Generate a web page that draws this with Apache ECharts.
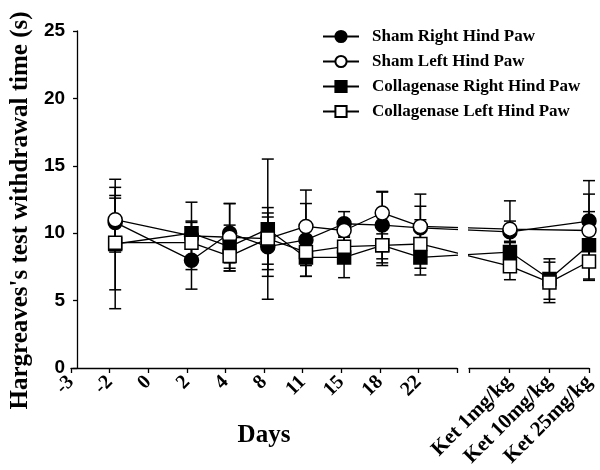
<!DOCTYPE html>
<html>
<head>
<meta charset="utf-8">
<script src="https://cdn.jsdelivr.net/npm/echarts@6/dist/echarts.min.js"></script>
<style>html,body{margin:0;padding:0;background:#fff}#c{width:600px;height:470px}</style>
</head>
<body>
<div id="c"></div>
<script>
// ---- data ----
const dayCats = ['-3', '-2', '0', '2', '4', '8', '11', '15', '18', '22'];
const ketCats = ['Ket 1mg/kg', 'Ket 10mg/kg', 'Ket 25mg/kg'];
const yTicks = [0, 5, 10, 15, 20, 25];
const seriesNames = ['Sham Right Hind Paw', 'Sham Left Hind Paw', 'Collagenase Right Hind Paw', 'Collagenase Left Hind Paw'];

const shamRightDays = [null, 10.8, null, 8.0, 10.0, 9.0, 9.5, 10.7, 10.6, 10.4];
const shamRightDaysErr = [null, 1.8, null, 2.15, 2.2, 2.2, 2.7, 0.9, 2.5, 2.5];
const shamRightKet = [10.1, null, 10.9];
const shamRightKetErr = [0.8, null, 3.0];

const shamLeftDays = [null, 11.0, null, 9.8, 9.7, 9.6, 10.5, 10.2, 11.5, 10.5];
const shamLeftDaysErr = [null, 2.4, null, 2.5, 2.5, 2.3, 2.7, 0.8, 1.55, 1.5];
const shamLeftKet = [10.3, null, 10.2];
const shamLeftKetErr = [2.1, null, 2.7];

const collRightDays = [null, 9.2, null, 10.0, 9.0, 10.3, 8.2, 8.2, 9.1, 8.2];
const collRightDaysErr = [null, 4.8, null, 0.9, 1.6, 5.2, 1.4, 1.5, 1.3, 1.3];
const collRightKet = [8.6, 6.6, 9.1];
const collRightKetErr = [0.8, 1.5, 2.5];

const collLeftDays = [null, 9.3, null, 9.3, 8.3, 9.6, 8.6, 9.0, 9.1, 9.2];
const collLeftDaysErr = [null, 3.5, null, 1.5, 1.1, 1.9, 1.0, 1.2, 1.5, 1.8];
const collLeftKet = [7.55, 6.35, 7.9];
const collLeftKetErr = [1.0, 1.5, 1.4];

// ---- layout ----
const L = 71, TOP = 31, BOTTOM = 102;
const LEFT_W = 386;          // left axis segment width
const RIGHT_X = 469, RIGHT_W = 120; // right axis segment
const PLOT_R = RIGHT_X + RIGHT_W;
const SERIF = 'Liberation Serif';
const SANS = 'Liberation Sans';

const leftAxisCats = dayCats.concat(['']);
const rightAxisCats = [''].concat(ketCats);
const leftStep = LEFT_W / (leftAxisCats.length - 1);
const rightStep = RIGHT_W / (rightAxisCats.length - 1);
function posDay(i) { return i * leftStep; }
function posKet(j) { return (RIGHT_X - L) + (j + 1) * rightStep; }

function buildLine(days, ket) {
  const out = [];
  days.forEach((v, i) => { if (v !== null) out.push([posDay(i), v]); });
  ket.forEach((v, j) => { out.push([posKet(j), v]); });
  return out;
}
function buildErr(days, dErr, ket, kErr) {
  const out = [];
  days.forEach((v, i) => { if (v !== null) out.push([posDay(i), v, dErr[i]]); });
  ket.forEach((v, j) => { if (v !== null) out.push([posKet(j), v, kErr[j]]); });
  return out;
}

const groups = [
  { name: seriesNames[0], d: shamRightDays, de: shamRightDaysErr, k: shamRightKet, ke: shamRightKetErr, symbol: 'circle', fill: '#000' },
  { name: seriesNames[1], d: shamLeftDays, de: shamLeftDaysErr, k: shamLeftKet, ke: shamLeftKetErr, symbol: 'circle', fill: '#fff' },
  { name: seriesNames[2], d: collRightDays, de: collRightDaysErr, k: collRightKet, ke: collRightKetErr, symbol: 'rect', fill: '#000' },
  { name: seriesNames[3], d: collLeftDays, de: collLeftDaysErr, k: collLeftKet, ke: collLeftKetErr, symbol: 'rect', fill: '#fff' }
];

let errData = [];
groups.forEach(g => { errData = errData.concat(buildErr(g.d, g.de, g.k, g.ke)); });

const series = [{
  type: 'custom',
  xAxisIndex: 0, yAxisIndex: 0,
  z: 1,
  silent: true,
  clip: false,
  data: errData,
  encode: { x: 0, y: 1 },
  renderItem: function (params, api) {
    const x = api.value(0), y = api.value(1), e = api.value(2);
    const t = api.coord([x, y + e]), b = api.coord([x, y - e]);
    const hw = 6;
    const st = { stroke: '#000', lineWidth: 1.5 };
    return { type: 'group', children: [
      { type: 'line', shape: { x1: t[0], y1: t[1], x2: b[0], y2: b[1] }, style: st },
      { type: 'line', shape: { x1: t[0] - hw, y1: t[1], x2: t[0] + hw, y2: t[1] }, style: st },
      { type: 'line', shape: { x1: b[0] - hw, y1: b[1], x2: b[0] + hw, y2: b[1] }, style: st }
    ]};
  }
}];

groups.forEach((g, idx) => {
  series.push({
    type: 'line',
    name: g.name,
    xAxisIndex: 0, yAxisIndex: 0,
    z: 2 + idx,
    data: buildLine(g.d, g.k),
    connectNulls: true,
    symbol: g.symbol,
    symbolSize: g.symbol === 'circle' ? 14 : 13,
    showAllSymbol: true,
    lineStyle: { color: '#000', width: 1.3 },
    itemStyle: { color: g.fill, borderColor: '#000', borderWidth: 1.5 }
  });
});

const axisLineStyle = { color: '#000', width: 1.3 };
const chart = echarts.init(document.getElementById('c'), null, { renderer: 'canvas' });
chart.setOption({
  animation: false,
  backgroundColor: '#fff',
  legend: {
    data: seriesNames,
    orient: 'vertical',
    left: 322, top: 28,
    padding: 0,
    itemGap: 8,
    itemWidth: 36, itemHeight: 14,
    textStyle: { fontFamily: SERIF, fontWeight: 'bold', fontSize: 17, color: '#000', padding: [0, 0, 0, 8] }
  },
  grid: [
    { left: L, top: TOP, right: 600 - PLOT_R, bottom: BOTTOM },
    { left: L, top: TOP, width: LEFT_W, bottom: BOTTOM },
    { left: RIGHT_X, top: TOP, width: RIGHT_W, bottom: BOTTOM }
  ],
  xAxis: [
    { type: 'value', gridIndex: 0, min: 0, max: PLOT_R - L, show: false },
    {
      type: 'category', gridIndex: 1, data: leftAxisCats, boundaryGap: false,
      axisLine: { lineStyle: axisLineStyle },
      axisTick: { show: true, length: 5, lineStyle: axisLineStyle, interval: 0 },
      axisLabel: { interval: 0, rotate: 45, margin: 11, fontFamily: SERIF, fontWeight: 'bold', fontSize: 20, color: '#000' },
      name: 'Days', nameLocation: 'middle', nameGap: 55,
      nameTextStyle: { fontFamily: SERIF, fontWeight: 'bold', fontSize: 25, color: '#000' }
    },
    {
      type: 'category', gridIndex: 2, data: rightAxisCats, boundaryGap: false,
      axisLine: { lineStyle: axisLineStyle },
      axisTick: { show: true, length: 5, lineStyle: axisLineStyle, interval: 0 },
      axisLabel: { interval: 0, rotate: 45, margin: 11, fontFamily: SERIF, fontWeight: 'bold', fontSize: 21, color: '#000' }
    }
  ],
  yAxis: [
    {
      type: 'value', gridIndex: 0, min: yTicks[0], max: yTicks[yTicks.length - 1], interval: yTicks[1] - yTicks[0],
      axisLine: { show: true, lineStyle: axisLineStyle },
      axisTick: { show: true, length: 4, lineStyle: axisLineStyle },
      splitLine: { show: false },
      axisLabel: { margin: 12, fontFamily: SANS, fontWeight: 'bold', fontSize: 19, color: '#000' },
      name: "Hargreaves's test withdrawal time (s)", nameLocation: 'middle', nameGap: 44,
      nameTextStyle: { fontFamily: SERIF, fontWeight: 'bold', fontSize: 25, color: '#000', padding: [0, 22, 0, 0] }
    },
    { type: 'value', gridIndex: 1, min: 0, max: 25, show: false },
    { type: 'value', gridIndex: 2, min: 0, max: 25, show: false }
  ],
  graphic: [
    { type: 'rect', shape: { x: 458, y: 150, width: 10, height: 470 - BOTTOM - 150 - 2 }, style: { fill: '#fff' }, z: 100, silent: true }
  ],
  series: series
});
</script>
</body>
</html>
